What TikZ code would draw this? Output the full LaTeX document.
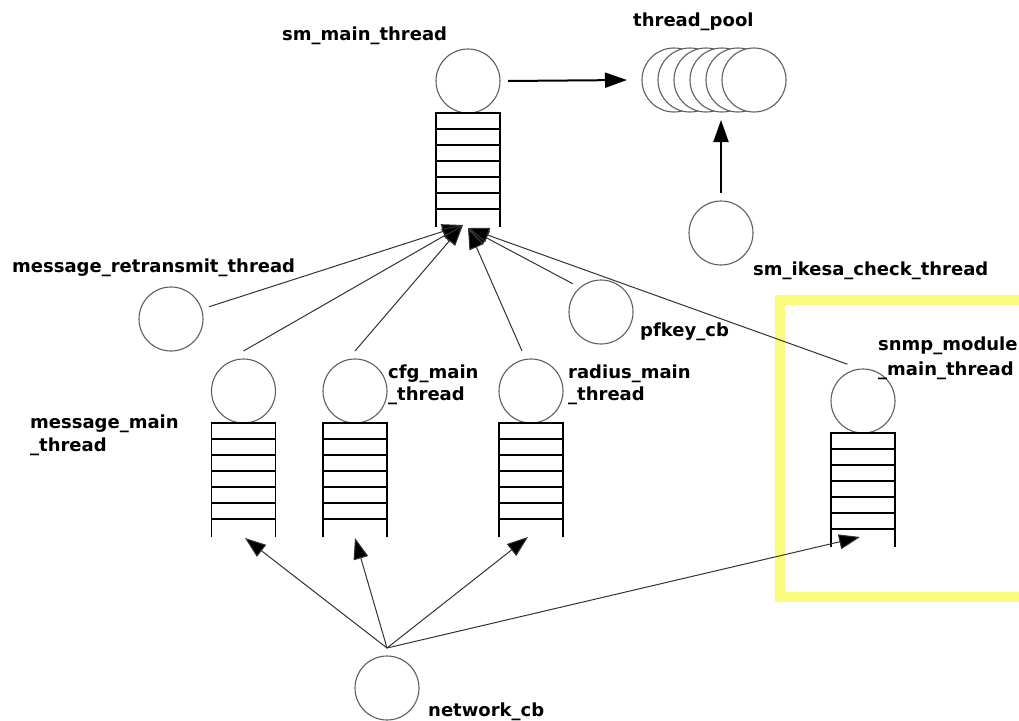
\documentclass[tikz,border=0pt]{standalone}
\usepackage{fontspec}
\setmainfont{DejaVu Sans}
\usetikzlibrary{arrows.meta}
\definecolor{hl}{RGB}{250,250,125}
\definecolor{cgray}{RGB}{95,95,95}
\begin{document}
\begin{tikzpicture}[x=1pt,y=-1pt,
  thr/.style={circle,draw=cgray,fill=white,line width=1.1pt,minimum size=64pt,inner sep=0pt,outer sep=8pt},
  lab/.style={font=\fontsize{18}{22}\selectfont\bfseries,inner sep=0pt,anchor=base west},
  conn/.style={draw=black!80,line width=1pt},
  arr/.style={conn,-{Triangle[length=21pt,width=15pt,fill=black]}},
  boldarr/.style={draw=black,line width=2pt,-{Triangle[length=22pt,width=15pt,fill=black]}},
  qline/.style={line width=1.8pt,black},
  queue/.pic={
    \draw[qline] (-32,114) -- (-32,0) -- (32,0) -- (32,114);
    \foreach \k in {1,...,6} \draw[qline] (-32,16*\k) -- (32,16*\k);
  }
]
\useasboundingbox (0,0) rectangle (1019,720);
\fill[white] (0,0) rectangle (1019,720);
% highlight box
\draw[hl, line width=10pt] (780,300) rectangle (1040,597);

% threads
\node[thr] (sm) at (468,81) {};
\pic at (468,113) {queue};
\node[thr] (tp1) at (674,80) {};
\node[thr] (tp2) at (690,80) {};
\node[thr] (tp3) at (706,80) {};
\node[thr] (tp4) at (722,80) {};
\node[thr] (tp5) at (738,80) {};
\node[thr] (tp6) at (754,80) {};
\node[thr] (ik) at (721,233) {};
\node[thr] (mr) at (171,319) {};
\node[thr] (pf) at (601,312) {};
\node[thr] (mm) at (243.5,391) {};
\pic at (243.5,423) {queue};
\node[thr] (cfg) at (355,391) {};
\pic at (355,423) {queue};
\node[thr] (rad) at (531,391) {};
\pic at (531,423) {queue};
\node[thr] (sn) at (863,401) {};
\pic at (863,433) {queue};
\node[thr] (nc) at (387,688) {};

% connector end points
\coordinate (smL) at (463,225);
\coordinate (smR) at (468,228);
\coordinate (mmin) at (245,538);
\coordinate (cfgin) at (355,538);
\coordinate (radin) at (528,537);
\coordinate (snin) at (860,537);

% connectors
\draw[boldarr] (sm.east) -- ([xshift=-7pt]tp1.west);
\draw[boldarr] (ik.north) -- (ik.north |- tp4.south);
\draw[arr] (mr) -- (smL);
\draw[arr] (mm.north) -- (smL);
\draw[arr] (cfg.north) -- (smL);
\draw[arr] ([xshift=-9pt]rad.north) -- (smR);
\draw[arr] (pf.north west) -- (smR);
\draw[arr] (sn.113) -- (smR);
\draw[arr] (nc.north) -- (mmin);
\draw[arr] (nc.north) -- (cfgin);
\draw[arr] (nc.north) -- (radin);
\draw[arr] (nc.north) -- (snin);

% labels
\node[lab] (l-sm) at (282,40) {sm\_main\_thread};
\node[lab] (l-tp) at (633,26) {thread\_pool};
\node[lab] (l-ik) at (753,275) {sm\_ikesa\_check\_thread};
\node[lab] (l-mr) at (12,272) {message\_retransmit\_thread};
\node[lab] (l-mm1) at (30,428) {message\_main};
\node[lab] (l-mm2) at (30,451) {\_thread};
\node[lab] (l-cfg1) at (388,378) {cfg\_main};
\node[lab] (l-cfg2) at (388,400) {\_thread};
\node[lab] (l-rad1) at (568,378) {radius\_main};
\node[lab] (l-rad2) at (568,400) {\_thread};
\node[lab] (l-pf) at (640,336) {pfkey\_cb};
\node[lab] (l-sn1) at (878,350) {snmp\_module};
\node[lab] (l-sn2) at (878,375) {\_main\_thread};
\node[lab] (l-nc) at (428,716) {network\_cb};
\end{tikzpicture}
\end{document}
